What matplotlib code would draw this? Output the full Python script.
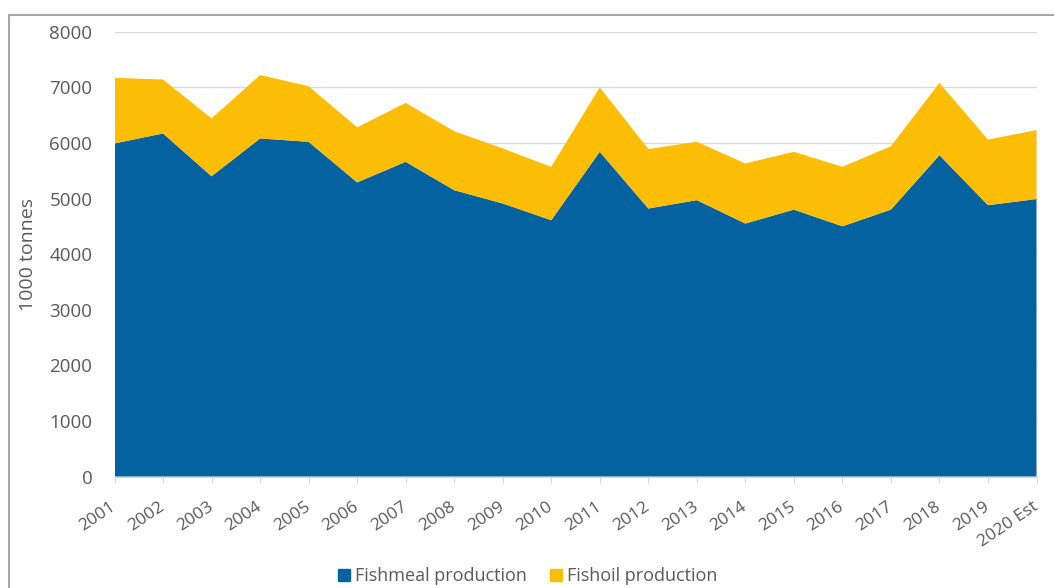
import numpy as np
import matplotlib.pyplot as plt
from matplotlib.lines import Line2D

plt.rcParams['font.family'] = ['Open Sans', 'DejaVu Sans']

years = ['2001', '2002', '2003', '2004', '2005', '2006', '2007', '2008', '2009', '2010',
         '2011', '2012', '2013', '2014', '2015', '2016', '2017', '2018', '2019', '2020 Est']
fishmeal = [5990, 6170, 5400, 6080, 6020, 5290, 5660, 5150, 4910, 4610,
            5840, 4820, 4970, 4550, 4800, 4500, 4800, 5780, 4880, 4990]
fishoil = [1180, 970, 1040, 1140, 1000, 990, 1060, 1060, 990, 960,
           1160, 1070, 1050, 1080, 1040, 1070, 1140, 1300, 1180, 1240]

blue = '#0462a1'
yellow = '#fcbd05'
grey = '#595959'

fig = plt.figure(figsize=(10.54, 5.88), dpi=100)
ax = fig.add_axes([114.5/1054, 1-476.5/588, (1036.5-114.5)/1054, (476.5-31.7)/588])

x = np.arange(len(years))
ax.stackplot(x, fishmeal, fishoil, colors=[blue, yellow],
             labels=['Fishmeal production', 'Fishoil production'], linewidth=0)

ax.set_xlim(0, len(years)-1)
ax.set_ylim(0, 8000)
ax.set_yticks(range(0, 8001, 1000))
ax.grid(axis='y', color='#d9d9d9', linewidth=1)
ax.set_axisbelow(True)
for s in ['top', 'right', 'left']:
	ax.spines[s].set_visible(False)
ax.spines['bottom'].set_color('#d9d9d9')
ax.tick_params(axis='y', length=0, pad=16, labelsize=13.5, labelcolor=grey)
ax.tick_params(axis='x', length=4, color='#d9d9d9', labelsize=12.5, labelcolor=grey, pad=17)
ax.set_xticks(x)
ax.set_xticklabels(years, rotation=34, ha='right', va='center', rotation_mode='anchor')
ax.set_ylabel('1000 tonnes', fontsize=14, color=grey, labelpad=9)

handles = [Line2D([], [], marker='s', linestyle='', markersize=8, color=blue),
           Line2D([], [], marker='s', linestyle='', markersize=8, color=yellow)]
fig.legend(handles, ['Fishmeal production', 'Fishoil production'], loc='center',
           bbox_to_anchor=(527/1054, 1-576/588), ncol=2, frameon=False,
           fontsize=13, labelcolor=grey, handletextpad=0.2, columnspacing=1.2,
           handlelength=0.8)

# outer frame
fig.add_artist(Line2D([9/1054, 9/1054], [0, 1-15/588], color='#a6a6a6', linewidth=1.5))
fig.add_artist(Line2D([9/1054, 1], [1-15/588, 1-15/588], color='#a6a6a6', linewidth=1.5))

fig.savefig('out.png', dpi=100)
